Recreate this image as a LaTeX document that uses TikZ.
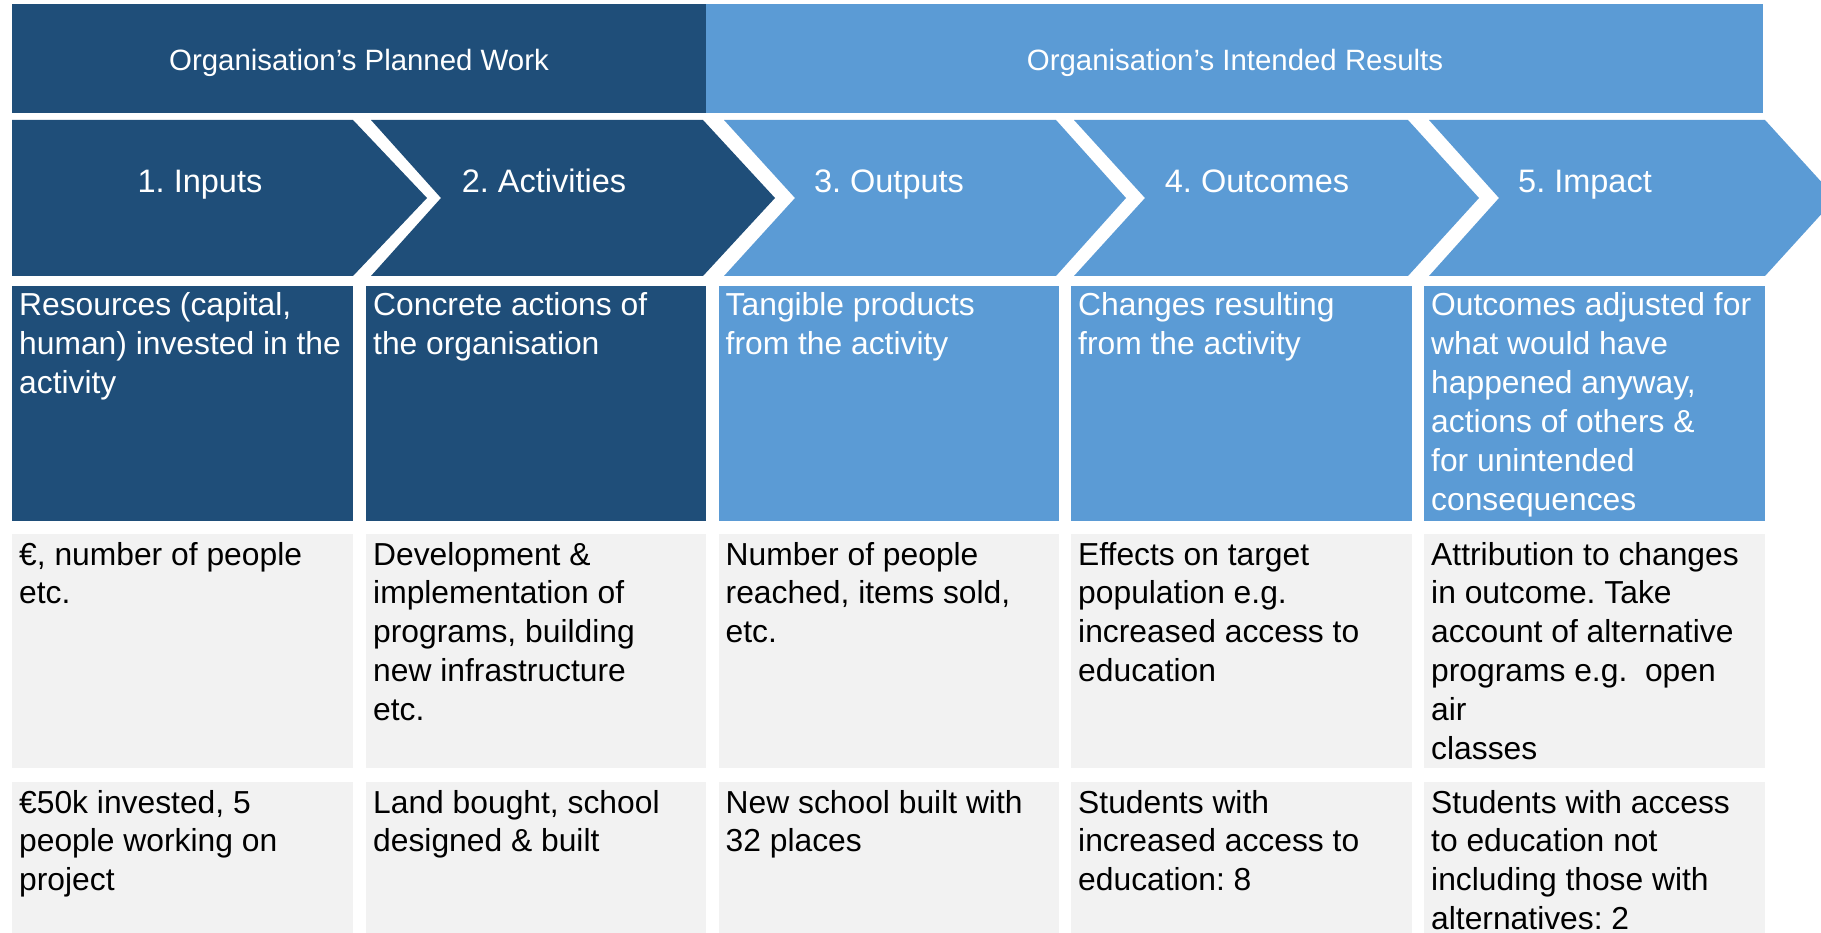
\documentclass[tikz,border=0pt]{standalone}
\usepackage{fontspec}
\setmainfont{Liberation Sans}
\frenchspacing
\definecolor{dkblue}{HTML}{1F4E79}
\definecolor{ltblue}{HTML}{5B9BD5}
\definecolor{pale}{HTML}{F2F2F2}
\newcommand{\boxlines}[1]{\parbox[t]{336pt}{\raggedright #1}}
\tikzset{
  banner/.style={anchor=base, inner sep=0pt, text=white, font=\fontsize{29.4}{35}\selectfont},
  chevtitle/.style={anchor=base, inner sep=0pt, text=white, font=\fontsize{32.5}{39}\selectfont},
  desc/.style={anchor=base west, inner sep=0pt, font=\fontsize{31.8}{38.9}\selectfont},
  wdesc/.style={desc, text=white},
  bdesc/.style={desc, text=black},
}
\begin{document}
\begin{tikzpicture}[x=1pt,y=-1pt]
\useasboundingbox (0,0) rectangle (1821,933);
\clip (0,0) rectangle (1821,933);
\fill[white] (0,0) rectangle (1821,933);
% banners
\fill[dkblue] (12,4.5) rectangle (706,113);
\fill[ltblue] (706,4.5) rectangle (1763,113);
\node[banner] (b1) at (359,70.5) {Organisation’s Planned Work};
\node[banner] (b2) at (1235,70.5) {Organisation’s Intended Results};
% chevrons
\fill[dkblue] (12,120) -- (353,120) -- (427,198) -- (353,276) -- (12,276) -- cycle;
\fill[dkblue] (371,120) -- (703,120) -- (775,198) -- (703,276) -- (371,276) -- (441,198) -- cycle;
\fill[ltblue] (724,120) -- (1056,120) -- (1126,198) -- (1056,276) -- (724,276) -- (795,198) -- cycle;
\fill[ltblue] (1074,120) -- (1408,120) -- (1479,198) -- (1408,276) -- (1074,276) -- (1145,198) -- cycle;
\fill[ltblue] (1429,120) -- (1765,120) -- (1836,198) -- (1765,276) -- (1429,276) -- (1499,198) -- cycle;
\node[chevtitle] (t1) at (200,193) {1. Inputs};
\node[chevtitle] (t2) at (544,193) {2. Activities};
\node[chevtitle] (t3) at (889,193) {3. Outputs};
\node[chevtitle] (t4) at (1257,193) {4. Outcomes};
\node[chevtitle] (t5) at (1585,193) {5. Impact};
% row 2 boxes
\fill[dkblue] (12,285.7) rectangle (353,521);
\fill[dkblue] (366,285.7) rectangle (706,521);
\fill[ltblue] (718.5,285.7) rectangle (1059,521);
\fill[ltblue] (1071,285.7) rectangle (1412,521);
\fill[ltblue] (1424,285.7) rectangle (1765,521);
% row 3 boxes
\fill[pale] (12,534) rectangle (353,768);
\fill[pale] (366,534) rectangle (706,768);
\fill[pale] (718.5,534) rectangle (1059,768);
\fill[pale] (1071,534) rectangle (1412,768);
\fill[pale] (1424,534) rectangle (1765,768);
% row 4 boxes
\fill[pale] (12,781.7) rectangle (353,945);
\fill[pale] (366,781.7) rectangle (706,945);
\fill[pale] (718.5,781.7) rectangle (1059,945);
\fill[pale] (1071,781.7) rectangle (1412,945);
\fill[pale] (1424,781.7) rectangle (1765,945);
% row 2 texts
\node[wdesc] (d1) at (19,316) {\boxlines{Resources (capital,\\human) invested in the\\activity}};
\node[wdesc] (d2) at (373,316) {\boxlines{Concrete actions of\\the organisation}};
\node[wdesc] (d3) at (725.5,316) {\boxlines{Tangible products\\from the activity}};
\node[wdesc] (d4) at (1078,316) {\boxlines{Changes resulting\\from the activity}};
\node[wdesc] (d5) at (1431,316) {\boxlines{Outcomes adjusted for\\what would have\\happened anyway,\\actions of others \&\\for unintended\\consequences}};
% row 3 texts
\node[bdesc] (m1) at (19,565) {\boxlines{€, number of people\\etc.}};
\node[bdesc] (m2) at (373,565) {\boxlines{Development \&\\implementation of\\programs, building\\new infrastructure\\etc.}};
\node[bdesc] (m3) at (725.5,565) {\boxlines{Number of people\\reached, items sold,\\etc.}};
\node[bdesc] (m4) at (1078,565) {\boxlines{Effects on target\\population e.g.\\increased access to\\education}};
\node[bdesc] (m5) at (1431,565) {\boxlines{Attribution to changes\\in outcome. Take\\account of alternative\\programs e.g.\ \ open\\air\\classes}};
% row 4 texts
\node[bdesc] (e1) at (19,813) {\boxlines{€50k invested, 5\\people working on\\project}};
\node[bdesc] (e2) at (373,813) {\boxlines{Land bought, school\\designed \& built}};
\node[bdesc] (e3) at (725.5,813) {\boxlines{New school built with\\32 places}};
\node[bdesc] (e4) at (1078,813) {\boxlines{Students with\\increased access to\\education: 8}};
\node[bdesc] (e5) at (1431,813) {\boxlines{Students with access\\to education not\\including those with\\alternatives: 2}};
\end{tikzpicture}
\end{document}
